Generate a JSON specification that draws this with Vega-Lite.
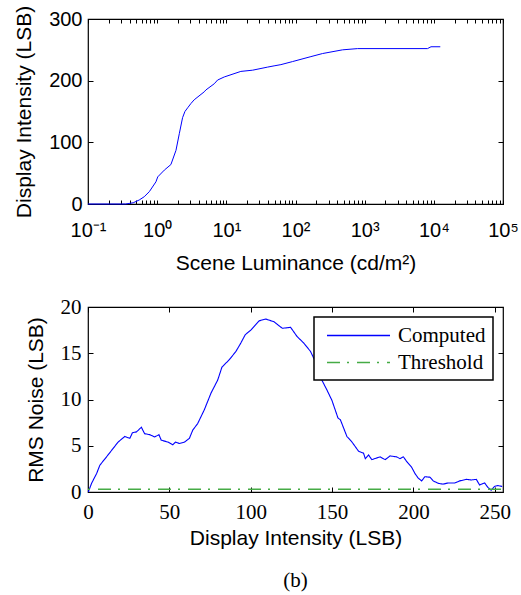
{
  "$schema": "https://vega.github.io/schema/vega-lite/v6.json",
  "background": "white",
  "padding": {"left": 13, "top": 4, "right": 5, "bottom": 5},
  "spacing": 21,
  "resolve": {"legend": {"color": "independent", "strokeDash": "independent"}},
  "config": {
    "view": {"stroke": "black", "strokeWidth": 1.2},
    "axis": {"domain": false, "grid": false, "tickColor": "black", "tickWidth": 1, "labelColor": "black", "titleColor": "black", "labelFontWeight": "normal", "titleFontWeight": "normal", "labelOverlap": false, "labelFlush": false}
  },
  "datasets": {
    "lum": [
      {"L": 0.1, "D": 0}, {"L": 0.35, "D": 0}, {"L": 0.45, "D": 2}, {"L": 0.55, "D": 6.5}, {"L": 0.65, "D": 11.8},
      {"L": 0.77, "D": 20}, {"L": 0.96, "D": 36}, {"L": 1.02, "D": 44}, {"L": 1.27, "D": 55}, {"L": 1.58, "D": 64},
      {"L": 1.87, "D": 87}, {"L": 2.09, "D": 114}, {"L": 2.33, "D": 140}, {"L": 2.52, "D": 150}, {"L": 2.76, "D": 156},
      {"L": 3.08, "D": 163}, {"L": 3.43, "D": 169}, {"L": 4.8, "D": 182}, {"L": 5.07, "D": 185}, {"L": 6.69, "D": 195},
      {"L": 7.47, "D": 201}, {"L": 9.33, "D": 206}, {"L": 16.2, "D": 215}, {"L": 24, "D": 217}, {"L": 39.5, "D": 222},
      {"L": 49, "D": 224}, {"L": 61.5, "D": 226}, {"L": 90.8, "D": 231}, {"L": 167, "D": 239}, {"L": 246, "D": 244},
      {"L": 479, "D": 250}, {"L": 789, "D": 252}, {"L": 8100, "D": 252}, {"L": 9100, "D": 255}, {"L": 12400, "D": 255}
    ],
    "noise": [
      {"series": "Computed", "I": 0.2, "N": 0}, {"series": "Computed", "I": 2.2, "N": 0.94}, {"series": "Computed", "I": 5.3, "N": 2.0},
      {"series": "Computed", "I": 7.3, "N": 2.9}, {"series": "Computed", "I": 11.4, "N": 3.8}, {"series": "Computed", "I": 14.5, "N": 4.5},
      {"series": "Computed", "I": 18.5, "N": 5.4}, {"series": "Computed", "I": 22.6, "N": 6.0}, {"series": "Computed", "I": 25.7, "N": 5.8},
      {"series": "Computed", "I": 27.3, "N": 6.4}, {"series": "Computed", "I": 29.8, "N": 6.5}, {"series": "Computed", "I": 32.8, "N": 7.0},
      {"series": "Computed", "I": 34.8, "N": 6.3}, {"series": "Computed", "I": 37.9, "N": 6.2}, {"series": "Computed", "I": 41, "N": 5.95},
      {"series": "Computed", "I": 43.6, "N": 6.2}, {"series": "Computed", "I": 45, "N": 5.6}, {"series": "Computed", "I": 49.1, "N": 5.4},
      {"series": "Computed", "I": 52.1, "N": 5.1}, {"series": "Computed", "I": 53.8, "N": 5.4}, {"series": "Computed", "I": 56.2, "N": 5.24},
      {"series": "Computed", "I": 59.3, "N": 5.4}, {"series": "Computed", "I": 62.3, "N": 5.8}, {"series": "Computed", "I": 64.4, "N": 6.7},
      {"series": "Computed", "I": 67.4, "N": 7.4}, {"series": "Computed", "I": 71.5, "N": 8.9}, {"series": "Computed", "I": 75.6, "N": 10.7},
      {"series": "Computed", "I": 79.7, "N": 12.1}, {"series": "Computed", "I": 82.3, "N": 13.5}, {"series": "Computed", "I": 86.8, "N": 14.3},
      {"series": "Computed", "I": 90.9, "N": 15.2}, {"series": "Computed", "I": 93.9, "N": 16.1}, {"series": "Computed", "I": 96.6, "N": 17.0},
      {"series": "Computed", "I": 100, "N": 17.5}, {"series": "Computed", "I": 105.1, "N": 18.5}, {"series": "Computed", "I": 109.2, "N": 18.7},
      {"series": "Computed", "I": 114.3, "N": 18.4}, {"series": "Computed", "I": 119.4, "N": 17.7}, {"series": "Computed", "I": 124.5, "N": 17.8},
      {"series": "Computed", "I": 128.5, "N": 16.8}, {"series": "Computed", "I": 132.6, "N": 16.1}, {"series": "Computed", "I": 136.7, "N": 15.2},
      {"series": "Computed", "I": 140, "N": 14.0}, {"series": "Computed", "I": 142.8, "N": 12.4}, {"series": "Computed", "I": 146.9, "N": 11.0},
      {"series": "Computed", "I": 149.9, "N": 9.9}, {"series": "Computed", "I": 153.6, "N": 8.0}, {"series": "Computed", "I": 155.1, "N": 7.8},
      {"series": "Computed", "I": 159.1, "N": 6.0}, {"series": "Computed", "I": 162.2, "N": 5.4}, {"series": "Computed", "I": 166.3, "N": 4.4},
      {"series": "Computed", "I": 169.3, "N": 4.2}, {"series": "Computed", "I": 170.4, "N": 3.6}, {"series": "Computed", "I": 172.4, "N": 4.0},
      {"series": "Computed", "I": 174.4, "N": 3.5}, {"series": "Computed", "I": 179.5, "N": 3.8}, {"series": "Computed", "I": 182.6, "N": 3.5},
      {"series": "Computed", "I": 185.6, "N": 3.9}, {"series": "Computed", "I": 189.7, "N": 3.8}, {"series": "Computed", "I": 191.7, "N": 3.6},
      {"series": "Computed", "I": 193.8, "N": 3.8}, {"series": "Computed", "I": 195.8, "N": 3.3}, {"series": "Computed", "I": 198.8, "N": 2.7},
      {"series": "Computed", "I": 200.9, "N": 2.0}, {"series": "Computed", "I": 202.9, "N": 1.5}, {"series": "Computed", "I": 205, "N": 1.2},
      {"series": "Computed", "I": 207, "N": 1.65}, {"series": "Computed", "I": 210.1, "N": 1.6}, {"series": "Computed", "I": 212.1, "N": 1.2},
      {"series": "Computed", "I": 215.2, "N": 0.94}, {"series": "Computed", "I": 218.2, "N": 0.85}, {"series": "Computed", "I": 221.3, "N": 0.98},
      {"series": "Computed", "I": 225.4, "N": 0.98}, {"series": "Computed", "I": 228.4, "N": 1.2}, {"series": "Computed", "I": 232.5, "N": 1.37},
      {"series": "Computed", "I": 235.5, "N": 1.3}, {"series": "Computed", "I": 238.6, "N": 1.37}, {"series": "Computed", "I": 240.6, "N": 0.76},
      {"series": "Computed", "I": 243.7, "N": 0.98}, {"series": "Computed", "I": 245.7, "N": 0.5}, {"series": "Computed", "I": 247.7, "N": 0.2},
      {"series": "Computed", "I": 249.8, "N": 0.6}, {"series": "Computed", "I": 251.8, "N": 0.7}, {"series": "Computed", "I": 254.5, "N": 0.6},
      {"series": "Threshold", "I": 0, "N": 0.3}, {"series": "Threshold", "I": 255, "N": 0.3}
    ]
  },
  "vconcat": [
    {
      "width": 415,
      "height": 185,
      "data": {"name": "lum"},
      "layer": [
        {
          "mark": {"type": "line", "color": "#0000ff", "strokeWidth": 1},
          "encoding": {
            "x": {
              "field": "L", "type": "quantitative",
              "scale": {"type": "log", "domain": [0.1, 100000]},
              "axis": {
                "orient": "bottom",
                "title": "Scene Luminance (cd/m²)",
                "values": [0.1, 0.2, 0.3, 0.4, 0.5, 0.6, 0.7, 0.8, 0.9, 1, 2, 3, 4, 5, 6, 7, 8, 9, 10, 20, 30, 40, 50, 60, 70, 80, 90, 100, 200, 300, 400, 500, 600, 700, 800, 900, 1000, 2000, 3000, 4000, 5000, 6000, 7000, 8000, 9000, 10000, 20000, 30000, 40000, 50000, 60000, 70000, 80000, 90000, 100000],
                "labelExpr": "abs(log(datum.value)/LN10 - round(log(datum.value)/LN10)) < 0.001 ? '10' + ['⁻¹','⁰','¹','²','³','⁴','⁵'][round(log(datum.value)/LN10) + 1] : ''",
                "offset": -4, "tickSize": 4,
                "labelFont": "Liberation Sans", "labelFontSize": 20, "labelPadding": 16,
                "titleFont": "Liberation Sans", "titleFontSize": 21, "titlePadding": 12
              }
            },
            "y": {
              "field": "D", "type": "quantitative",
              "scale": {"domain": [0, 300]},
              "axis": {
                "orient": "left",
                "title": "Display Intensity (LSB)",
                "values": [0, 100, 200, 300],
                "offset": -5, "tickSize": 5,
                "labelFont": "Liberation Sans", "labelFontSize": 20, "labelPadding": 6,
                "titleFont": "Liberation Sans", "titleFontSize": 21, "titlePadding": 14
              }
            }
          }
        },
        {
          "mark": {"type": "line", "opacity": 0},
          "encoding": {
            "x": {
              "field": "L", "type": "quantitative",
              "scale": {"type": "log", "domain": [0.1, 100000]},
              "axis": {
                "orient": "top", "title": null, "labels": false,
                "values": [0.1, 0.2, 0.3, 0.4, 0.5, 0.6, 0.7, 0.8, 0.9, 1, 2, 3, 4, 5, 6, 7, 8, 9, 10, 20, 30, 40, 50, 60, 70, 80, 90, 100, 200, 300, 400, 500, 600, 700, 800, 900, 1000, 2000, 3000, 4000, 5000, 6000, 7000, 8000, 9000, 10000, 20000, 30000, 40000, 50000, 60000, 70000, 80000, 90000, 100000],
                "offset": -4, "tickSize": 4
              }
            },
            "y": {
              "field": "D", "type": "quantitative",
              "scale": {"domain": [0, 300]},
              "axis": {"orient": "right", "title": null, "labels": false, "values": [0, 100, 200, 300], "offset": -5, "tickSize": 5}
            }
          }
        }
      ],
      "resolve": {"axis": {"x": "independent", "y": "independent"}}
    },
    {
      "width": 415,
      "height": 185,
      "data": {"name": "noise"},
      "title": {"text": "(b)", "orient": "bottom", "anchor": "middle", "font": "Liberation Serif", "fontSize": 21, "fontWeight": "normal", "color": "black", "offset": 22},
      "layer": [
        {
          "mark": {"type": "line", "strokeDashOffset": 20},
          "encoding": {
            "x": {
              "field": "I", "type": "quantitative",
              "scale": {"domain": [0, 255]},
              "axis": {
                "orient": "bottom", "title": "Display Intensity (LSB)",
                "values": [0, 50, 100, 150, 200, 250],
                "offset": -5, "tickSize": 5,
                "labelFont": "Liberation Serif", "labelFontSize": 21, "labelPadding": 9,
                "titleFont": "Liberation Sans", "titleFontSize": 21, "titlePadding": 5
              }
            },
            "y": {
              "field": "N", "type": "quantitative",
              "scale": {"domain": [0, 20]},
              "axis": {
                "orient": "left", "title": "RMS Noise (LSB)",
                "values": [0, 5, 10, 15, 20],
                "offset": -5, "tickSize": 5,
                "labelFont": "Liberation Serif", "labelFontSize": 21, "labelPadding": 7,
                "titleFont": "Liberation Sans", "titleFontSize": 21, "titlePadding": 14
              }
            },
            "strokeWidth": {
              "field": "series", "type": "nominal",
              "scale": {"domain": ["Computed", "Threshold"], "range": [1.1, 1.7]},
              "legend": null
            },
            "color": {
              "field": "series", "type": "nominal",
              "scale": {"domain": ["Computed", "Threshold"], "range": ["#0000ff", "#45ab45"]},
              "legend": {
                "title": null, "orient": "top-right", "offset": 10, "padding": 7,
                "fillColor": "white", "strokeColor": "black",
                "labelFont": "Liberation Serif", "labelFontSize": 21, "labelColor": "black", "labelOffset": 28, "labelLimit": 300,
                "symbolType": "M-3,0H3", "symbolSize": 441, "symbolOffset": 26, "symbolStrokeWidth": 1.3, "rowPadding": 5,
                "encode": {"legend": {"update": {"strokeWidth": {"value": 1.5}}}}
              }
            },
            "strokeDash": {
              "field": "series", "type": "nominal",
              "scale": {"domain": ["Computed", "Threshold"], "range": [[1, 0], [13, 7, 2, 8]]},
              "legend": {
                "title": null, "orient": "top-right", "offset": 10, "padding": 7,
                "fillColor": "white", "strokeColor": "black",
                "labelFont": "Liberation Serif", "labelFontSize": 21, "labelColor": "black", "labelOffset": 28, "labelLimit": 300,
                "symbolType": "M-3,0H3", "symbolSize": 441, "symbolOffset": 26, "symbolStrokeWidth": 1.3, "rowPadding": 5,
                "encode": {"legend": {"update": {"strokeWidth": {"value": 1.5}}}}
              }
            }
          }
        },
        {
          "mark": {"type": "line", "opacity": 0},
          "encoding": {
            "x": {
              "field": "I", "type": "quantitative",
              "scale": {"domain": [0, 255]},
              "axis": {"orient": "top", "title": null, "labels": false, "values": [0, 50, 100, 150, 200, 250], "offset": -5, "tickSize": 5}
            },
            "y": {
              "field": "N", "type": "quantitative",
              "scale": {"domain": [0, 20]},
              "axis": {"orient": "right", "title": null, "labels": false, "values": [0, 5, 10, 15, 20], "offset": -5, "tickSize": 5}
            }
          }
        }
      ],
      "resolve": {"axis": {"x": "independent", "y": "independent"}}
    }
  ]
}
